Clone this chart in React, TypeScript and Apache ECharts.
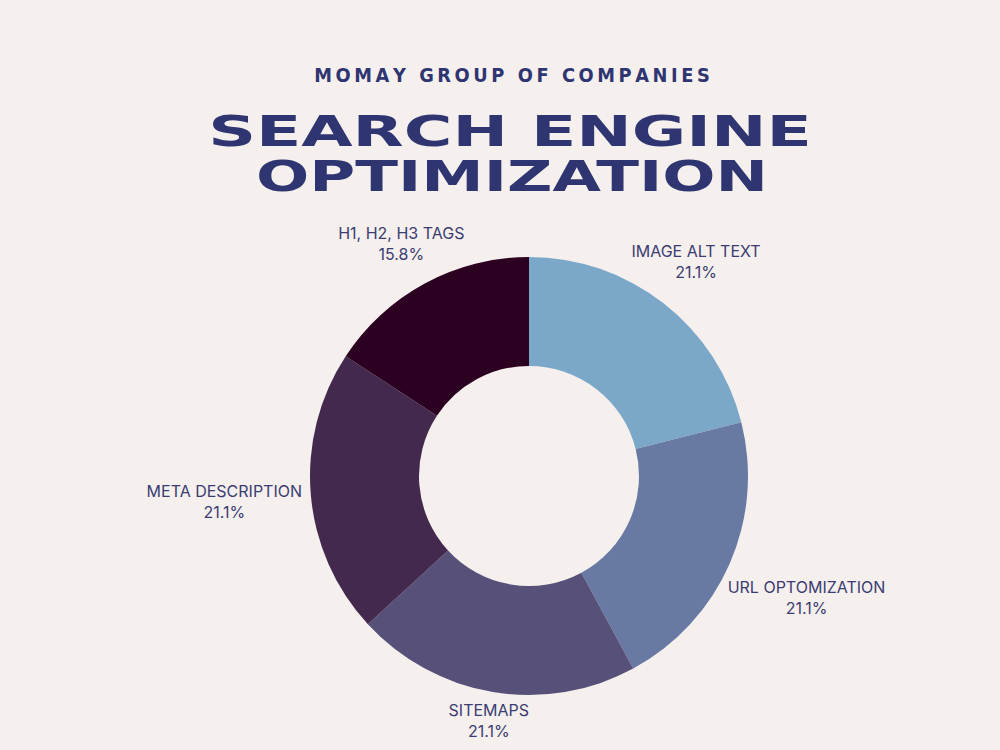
import React, { useEffect, useRef } from "react";
import * as echarts from "echarts";

const categories = ["IMAGE ALT TEXT", "URL OPTOMIZATION", "SITEMAPS", "META DESCRIPTION", "H1, H2, H3 TAGS"];
const values = [4, 4, 4, 4, 3];
const colors = ["#7BA8C9", "#687AA3", "#575078", "#43294E", "#2C0020"];
const labelNudge = [[-9, -23], [2, 24], [3, 5], [-6, 5], [8, -19]];

const BG = "#F5F0EE";
const NAVY = "#2F3571";
const CX = 529, CY = 476, R_OUT = 219, R_IN = 110;

function measure(text: string, font: string): number {
  const c = document.createElement("canvas");
  const ctx = c.getContext("2d")!;
  ctx.font = font;
  return ctx.measureText(text).width;
}

export default function App() {
  const ref = useRef<HTMLDivElement>(null);
  useEffect(() => {
    if (!ref.current) return;
    const chart = echarts.init(ref.current, null, { renderer: "svg" });
    const total = values.reduce((a, b) => a + b, 0);
    const midAngles: number[] = [];
    let acc = 0;
    values.forEach((v) => {
      const start = 90 - (acc / total) * 360;
      acc += v;
      const end = 90 - (acc / total) * 360;
      midAngles.push(((start + end) / 2) * Math.PI / 180);
    });

    const titleFont = "bold 42px 'DejaVu Sans'";
    const subFont = "bold 19px 'DejaVu Sans'";
    const subText = "MOMAY GROUP OF COMPANIES".split("").join("\u2009");
    const s1 = 604 / measure("SEARCH ENGINE", titleFont);
    const s2 = 512 / measure("OPTIMIZATION", titleFont);
    const s3 = 396 / measure(subText, subFont);

    chart.setOption({
      animation: false,
      backgroundColor: BG,
      graphic: [
        { type: "text", x: 512, y: 75, scaleX: s3, style: { text: subText, font: subFont, fill: NAVY, textAlign: "center", textVerticalAlign: "middle" } },
        { type: "text", x: 510, y: 131, scaleX: s1, style: { text: "SEARCH ENGINE", font: titleFont, fill: NAVY, textAlign: "center", textVerticalAlign: "middle" } },
        { type: "text", x: 512, y: 176, scaleX: s2, style: { text: "OPTIMIZATION", font: titleFont, fill: NAVY, textAlign: "center", textVerticalAlign: "middle" } },
      ],
      series: [
        {
          type: "pie",
          center: [CX, CY],
          radius: [R_IN, R_OUT],
          startAngle: 90,
          clockwise: true,
          data: categories.map((name, i) => ({ name, value: values[i], itemStyle: { color: colors[i] } })),
          label: {
            show: true,
            position: "outside",
            color: "#3B3C72",
            fontFamily: "Inter",
            fontSize: 16,
            lineHeight: 21,
            align: "center",
            formatter: (p: any) => `${p.name}\n${((p.value / total) * 100).toFixed(1)}%`,
          },
          labelLine: { show: false },
          labelLayout: (p: any) => {
            const i = p.dataIndex;
            const a = midAngles[i];
            const w = p.labelRect.width, h = p.labelRect.height;
            const d = R_OUT + 3;
            const x = CX + Math.cos(a) * (d + w / 2) + labelNudge[i][0];
            const y = CY - Math.sin(a) * (d + h / 2) + labelNudge[i][1];
            return { x, y, align: "center", verticalAlign: "middle" };
          },
          emphasis: { disabled: true },
        },
      ],
    });
    return () => chart.dispose();
  }, []);
  return <div ref={ref} style={{ width: 1000, height: 750, position: "absolute", left: 0, top: 0 }} />;
}
